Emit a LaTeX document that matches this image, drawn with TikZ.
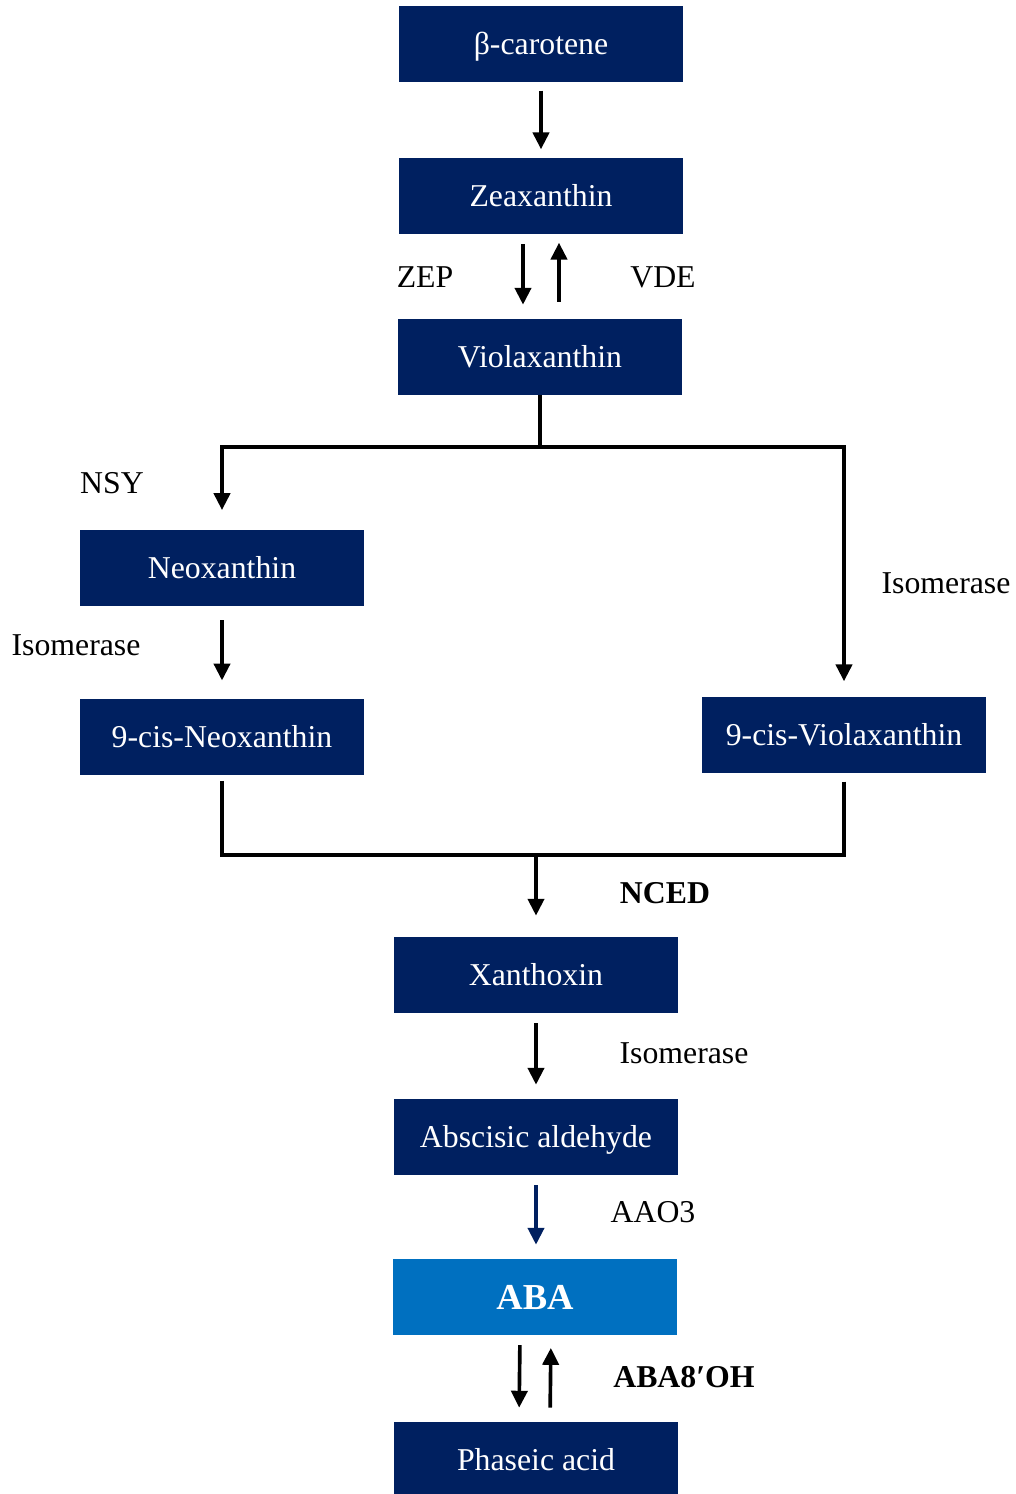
\documentclass[tikz,border=0pt]{standalone}
\usepackage{fontspec}
\setmainfont{Liberation Serif}
\usetikzlibrary{arrows.meta,calc}
\definecolor{abanavy}{RGB}{0,32,96}
\definecolor{abablue}{RGB}{0,112,192}

\begin{document}
\begin{tikzpicture}[x=0.025cm, y=-0.025cm,
  stepbox/.style={rectangle, fill=abanavy, text=white, minimum width=7.1cm,
    minimum height=1.9cm, inner sep=0pt, text height=15.6pt, text depth=0pt,
    font=\fontsize{22.6}{27}\selectfont},
  enzlabel/.style={font=\fontsize{22.6}{27}\selectfont},
  flow/.style={line width=2.6pt, -{Triangle[width=11.5pt,length=12pt]},
    shorten <=7pt, shorten >=10pt},
  link/.style={line width=2.6pt}]
  \useasboundingbox (0,0) rectangle (1016,1494);

  % Main chain
  \node[stepbox] (bcar) at (541,44)   {β-carotene};
  \node[stepbox] (zea)  at (541,196)  {Zeaxanthin};
  \node[stepbox] (vio)  at (540,357)  {Violaxanthin};

  % Branches
  \node[stepbox] (neo)    at (222,568) {Neoxanthin};
  \node[stepbox] (cisneo) at (222,737) {9-cis-Neoxanthin};
  \node[stepbox] (cisvio) at (844,735) {9-cis-Violaxanthin};

  % Lower chain
  \node[stepbox] (xan) at (536,975)  {Xanthoxin};
  \node[stepbox] (abs) at (536,1137) {Abscisic aldehyde};
  \node[stepbox, fill=abablue, text height=17.9pt,
    font=\fontsize{26}{30}\selectfont\bfseries] (aba) at (535,1297) {ABA};
  \node[stepbox] (pha) at (536,1460) {Phaseic acid};

  % Enzyme labels
  \node[enzlabel] (zep)   at (425,277)  {ZEP};
  \node[enzlabel] (vde)   at (663,277)  {VDE};
  \node[enzlabel] (nsy)   at (112,483)  {NSY};
  \node[enzlabel] (isor)  at (946,583)  {Isomerase};
  \node[enzlabel] (isol)  at (76,645)   {Isomerase};
  \node[enzlabel, font=\fontsize{22.6}{27}\selectfont\bfseries] (nced) at (665,893) {NCED};
  \node[enzlabel] (isox)  at (684,1053) {Isomerase};
  \node[enzlabel] (aao)   at (653,1212) {AAO3};
  \node[enzlabel, font=\fontsize{22.6}{27}\selectfont\bfseries] (aba8) at (684,1377) {ABA8′OH};

  % Junction points
  \coordinate (fork) at (540,447);
  \coordinate (join) at (536,855);

  % Connectors
  \draw[flow, shorten <=6pt, shorten >=6pt] (bcar) -- (zea);
  \draw[flow] ($(zea.south)+(-18,0)$) -- ($(vio.north)+(-17,0)$);
  \draw[flow, shorten <=12pt, shorten >=6pt] ($(vio.north)+(19,0)$) -- ($(zea.south)+(18,0)$);
  \draw[link] (vio) -- (fork);
  \draw[flow, shorten <=0pt, shorten >=14pt] (fork) -| (neo);
  \draw[flow, shorten <=0pt, shorten >=11pt] (fork) -| (cisvio);
  \draw[flow, shorten <=10pt, shorten >=13pt] (neo) -- (cisneo);
  \draw[link, shorten <=4pt] (cisneo) |- (join);
  \draw[link, shorten <=6pt] (cisvio) |- (join);
  \draw[flow, shorten <=0pt, shorten >=15pt] (join) -- (xan);
  \draw[flow] (xan) -- (abs);
  \draw[flow, draw=abanavy, fill=abanavy] (abs) -- (abs |- aba.north);
  \draw[flow] ($(aba.south)+(-15,0)$) -- ($(pha.north)+(-17,0)$);
  \draw[flow, shorten <=10pt, shorten >=9pt] ($(pha.north)+(14,0)$) -- ($(aba.south)+(16,0)$);
\end{tikzpicture}
\end{document}
